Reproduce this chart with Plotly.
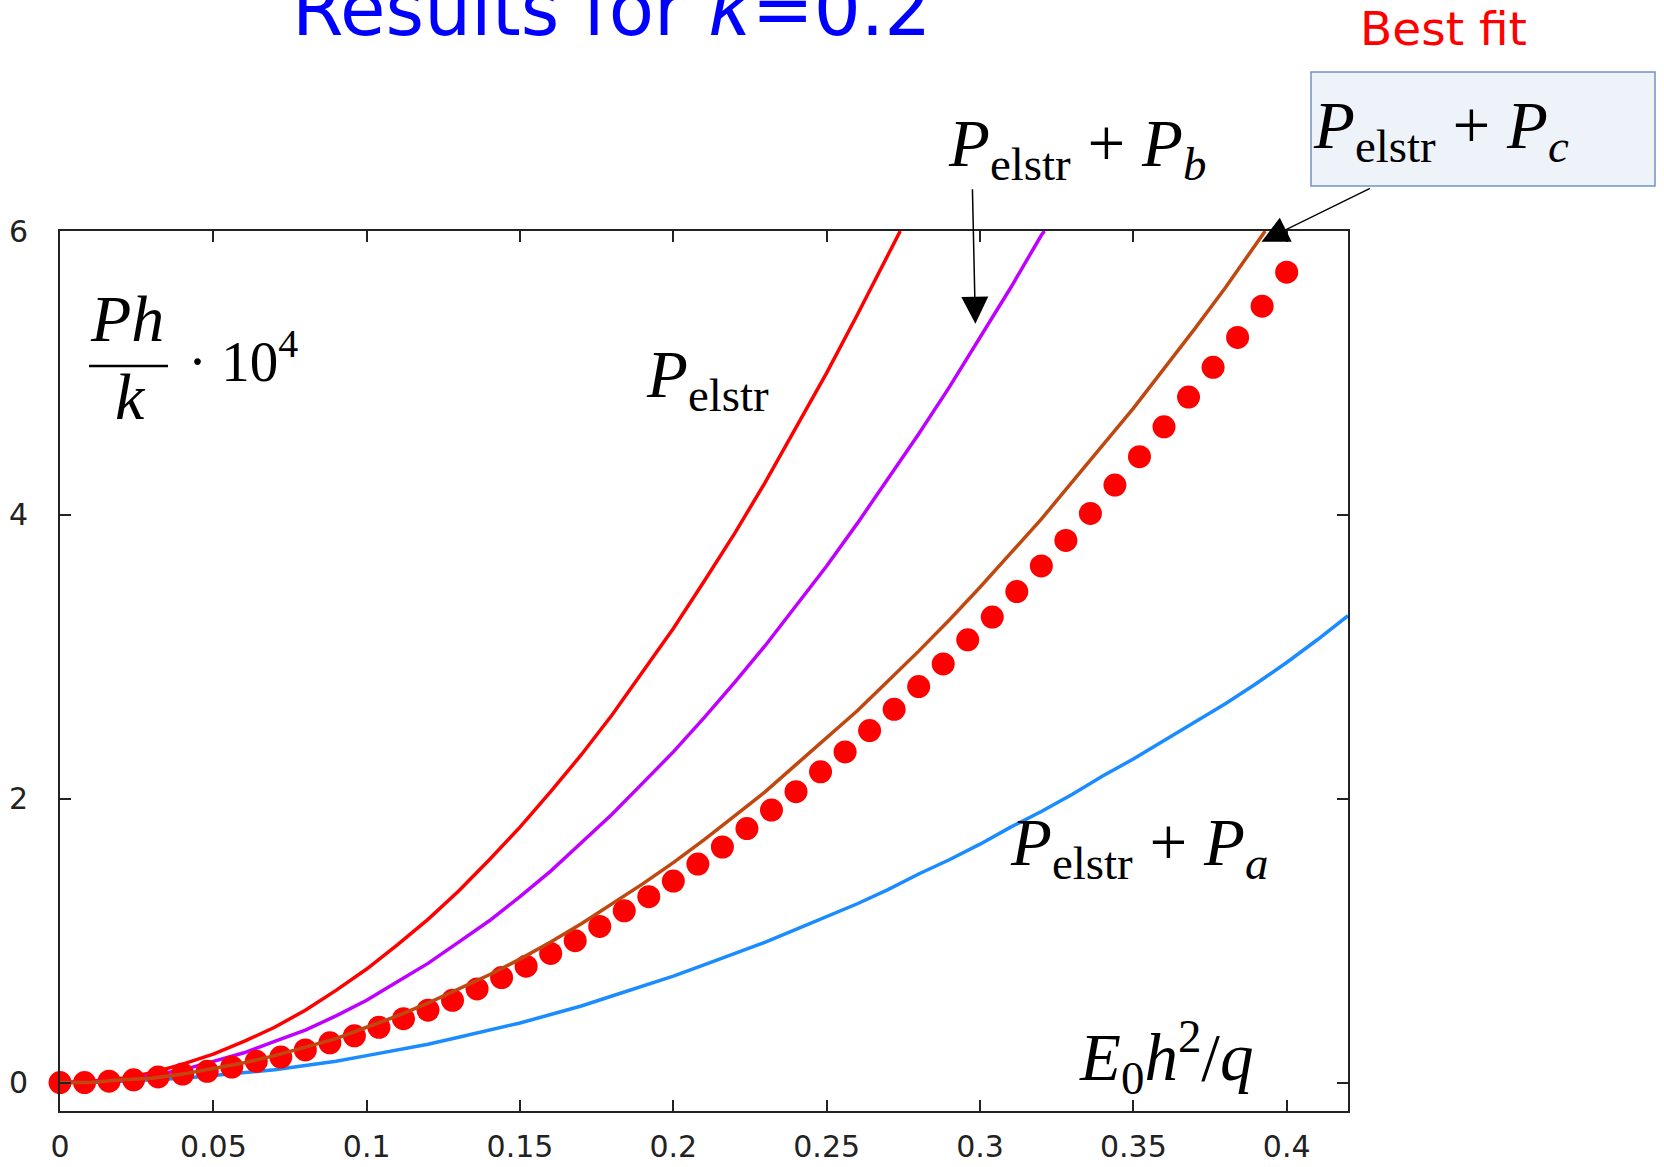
import plotly.graph_objects as go

# --- data -------------------------------------------------------------
# P_elstr
x_elstr = [0.00, 0.01, 0.02, 0.03, 0.04, 0.05, 0.06, 0.07, 0.08, 0.09, 0.10,
           0.11, 0.12, 0.13, 0.14, 0.15, 0.16, 0.17, 0.18, 0.19, 0.20, 0.21,
           0.22, 0.23, 0.24, 0.25, 0.26, 0.27, 0.274]
p_elstr = [0.00, 0.01, 0.03, 0.07, 0.13, 0.20, 0.29, 0.39, 0.51, 0.65, 0.80,
           0.97, 1.15, 1.35, 1.57, 1.80, 2.05, 2.31, 2.59, 2.89, 3.20, 3.53,
           3.87, 4.23, 4.61, 5.00, 5.41, 5.83, 6.00]

# P_elstr + P_b
x_b = [0.00, 0.01, 0.02, 0.03, 0.04, 0.05, 0.06, 0.07, 0.08, 0.09, 0.10,
       0.11, 0.12, 0.13, 0.14, 0.15, 0.16, 0.17, 0.18, 0.19, 0.20, 0.21,
       0.22, 0.23, 0.24, 0.25, 0.26, 0.27, 0.28, 0.29, 0.30, 0.31, 0.32, 0.321]
p_b = [0.00, 0.01, 0.02, 0.05, 0.09, 0.15, 0.21, 0.29, 0.37, 0.47, 0.58,
       0.71, 0.84, 0.99, 1.14, 1.31, 1.49, 1.69, 1.89, 2.11, 2.33, 2.57,
       2.82, 3.08, 3.36, 3.64, 3.94, 4.25, 4.57, 4.90, 5.25, 5.60, 5.97, 6.00]

# P_elstr + P_c
x_c = [0.00, 0.01, 0.02, 0.03, 0.04, 0.05, 0.06, 0.07, 0.08, 0.09, 0.10,
       0.11, 0.12, 0.13, 0.14, 0.15, 0.16, 0.17, 0.18, 0.19, 0.20, 0.21,
       0.22, 0.23, 0.24, 0.25, 0.26, 0.27, 0.28, 0.29, 0.30, 0.31, 0.32,
       0.33, 0.34, 0.35, 0.36, 0.37, 0.38, 0.39, 0.393]
p_c = [0.00, 0.00, 0.02, 0.03, 0.06, 0.10, 0.14, 0.19, 0.25, 0.31, 0.39,
       0.47, 0.56, 0.66, 0.76, 0.87, 0.99, 1.12, 1.26, 1.40, 1.55, 1.71,
       1.88, 2.05, 2.24, 2.43, 2.62, 2.83, 3.04, 3.26, 3.49, 3.73, 3.97,
       4.23, 4.49, 4.75, 5.03, 5.31, 5.60, 5.90, 6.00]

# P_elstr + P_a
x_a = [0.00, 0.01, 0.02, 0.03, 0.04, 0.05, 0.06, 0.07, 0.08, 0.09, 0.10,
       0.11, 0.12, 0.13, 0.14, 0.15, 0.16, 0.17, 0.18, 0.19, 0.20, 0.21,
       0.22, 0.23, 0.24, 0.25, 0.26, 0.27, 0.28, 0.29, 0.30, 0.31, 0.32,
       0.33, 0.34, 0.35, 0.36, 0.37, 0.38, 0.39, 0.40, 0.41, 0.42]
p_a = [0.00, 0.00, 0.01, 0.02, 0.03, 0.05, 0.07, 0.09, 0.12, 0.15, 0.19,
       0.23, 0.27, 0.32, 0.37, 0.42, 0.48, 0.54, 0.61, 0.68, 0.75, 0.83,
       0.91, 0.99, 1.08, 1.17, 1.26, 1.36, 1.47, 1.57, 1.68, 1.80, 1.91,
       2.03, 2.16, 2.28, 2.41, 2.54, 2.67, 2.81, 2.96, 3.12, 3.29]

# measured points (best fit target)
x_fit = [0.000, 0.008, 0.016, 0.024, 0.032, 0.040, 0.048, 0.056, 0.064, 0.072,
         0.080, 0.088, 0.096, 0.104, 0.112, 0.120, 0.128, 0.136, 0.144, 0.152,
         0.160, 0.168, 0.176, 0.184, 0.192, 0.200, 0.208, 0.216, 0.224, 0.232,
         0.240, 0.248, 0.256, 0.264, 0.272, 0.280, 0.288, 0.296, 0.304, 0.312,
         0.320, 0.328, 0.336, 0.344, 0.352, 0.360, 0.368, 0.376, 0.384, 0.392,
         0.400]
p_fit = [0.00, 0.00, 0.01, 0.02, 0.04, 0.06, 0.08, 0.11, 0.15, 0.18,
         0.23, 0.28, 0.33, 0.39, 0.45, 0.51, 0.58, 0.66, 0.74, 0.82,
         0.91, 1.00, 1.10, 1.21, 1.31, 1.42, 1.54, 1.66, 1.79, 1.92,
         2.05, 2.19, 2.33, 2.48, 2.63, 2.79, 2.95, 3.12, 3.28, 3.46,
         3.64, 3.82, 4.01, 4.21, 4.41, 4.62, 4.83, 5.04, 5.25, 5.47,
         5.71]

x_tickvals = [0, 0.05, 0.1, 0.15, 0.2, 0.25, 0.3, 0.35, 0.4]
x_ticktext = ["0", "0.05", "0.1", "0.15", "0.2", "0.25", "0.3", "0.35", "0.4"]
y_tickvals = [0, 2, 4, 6]
y_ticktext = ["0", "2", "4", "6"]

# --- page geometry (pixels) --------------------------------------------
W, H = 1664, 1167
L, R, T, B = 60, 316, 231, 56
PW, PH = W - L - R, H - T - B


def px(xp):
    return (xp - L) / PW


def py(yp):
    return (H - B - yp) / PH


SERIF = "Liberation Serif"
SANS = "DejaVu Sans"

fig = go.Figure()

fig.add_trace(go.Scatter(x=x_elstr, y=p_elstr, mode="lines",
                         line=dict(color="#ff0000", width=3.5)))
fig.add_trace(go.Scatter(x=x_b, y=p_b, mode="lines",
                         line=dict(color="#c000ff", width=3.5)))
fig.add_trace(go.Scatter(x=x_a, y=p_a, mode="lines",
                         line=dict(color="#1a8cff", width=3.5)))
fig.add_trace(go.Scatter(x=x_fit, y=p_fit, mode="markers", cliponaxis=False,
                         marker=dict(color="#ff0000", size=23, symbol="circle",
                                     line=dict(width=0))))
fig.add_trace(go.Scatter(x=x_c, y=p_c, mode="lines",
                         line=dict(color="#c04810", width=3.5)))

annotations = []


def label(text, left, baseline, size, family=SERIF, color="black", desc=0.36):
    annotations.append(dict(
        text=text, xref="paper", yref="paper", showarrow=False,
        x=px(left), y=py(baseline + desc * size),
        xanchor="left", yanchor="bottom",
        font=dict(family=family, size=size, color=color)))


# title and note
label("Results for <i>κ</i>=0.2", 290, 36, 74, family=SANS, color="#0000ff", desc=0.24)
label("Best fit", 1358, 47, 47, family=SANS, color="#ff0000", desc=0.24)

# curve labels
label("<i>P</i><sub>elstr</sub>", 644, 399, 67)
label("<i>P</i><sub>elstr</sub> + <i>P</i><sub><i>b</i></sub>", 946, 168, 67)
label("<i>P</i><sub>elstr</sub> + <i>P</i><sub><i>c</i></sub>", 1311, 150, 67)
label("<i>P</i><sub>elstr</sub> + <i>P</i><sub><i>a</i></sub>", 1008, 867, 67)
label("<i>E</i><sub>0</sub><i>h</i><sup>2</sup>/<i>q</i>", 1077, 1082, 67)

# y quantity as a fraction
label("<i>Ph</i>", 88, 342, 66, desc=0.22)
label("<i>k</i>", 113, 420, 66, desc=0.22)
label("· 10<sup>4</sup>", 186, 382, 57, desc=0.22)

# arrows pointing at the curves
annotations.append(dict(x=0.2985, y=5.347, xref="x", yref="y", text="",
                        showarrow=True, ax=-3, ay=-136, arrowhead=2,
                        arrowsize=3.6, arrowwidth=1.5, arrowcolor="black",
                        standoff=0))
annotations.append(dict(x=0.3918, y=5.925, xref="x", yref="y", text="",
                        showarrow=True, ax=110, ay=-54, arrowhead=2,
                        arrowsize=3.6, arrowwidth=1.5, arrowcolor="black",
                        standoff=0))

shapes = [
    # box around the best-fit label
    dict(type="rect", xref="paper", yref="paper",
         x0=px(1311), x1=px(1655), y0=py(186), y1=py(72),
         fillcolor="#eef2f9", line=dict(color="#7393c4", width=1.5),
         layer="below"),
    # fraction bar of the y quantity
    dict(type="line", xref="paper", yref="paper",
         x0=px(89), x1=px(168), y0=py(366), y1=py(366),
         line=dict(color="black", width=2.5)),
]

axis_common = dict(showgrid=False, zeroline=False, showline=True,
                   linecolor="#222222", linewidth=2, mirror="ticks",
                   ticks="inside", ticklen=11, tickwidth=1.5,
                   tickcolor="#222222", automargin=False,
                   tickfont=dict(family=SANS, size=30, color="#222222"))

fig.update_layout(
    width=W, height=H,
    margin=dict(l=L, r=R, t=T, b=B),
    paper_bgcolor="white", plot_bgcolor="white",
    showlegend=False,
    xaxis=dict(range=[0, 0.42], tickvals=x_tickvals, ticktext=x_ticktext,
               ticklabelstandoff=8, **axis_common),
    yaxis=dict(range=[-0.2, 6], tickvals=y_tickvals, ticktext=y_ticktext,
               ticklabelstandoff=24, **axis_common),
    annotations=annotations,
    shapes=shapes,
)

fig.write_html("out.html")
